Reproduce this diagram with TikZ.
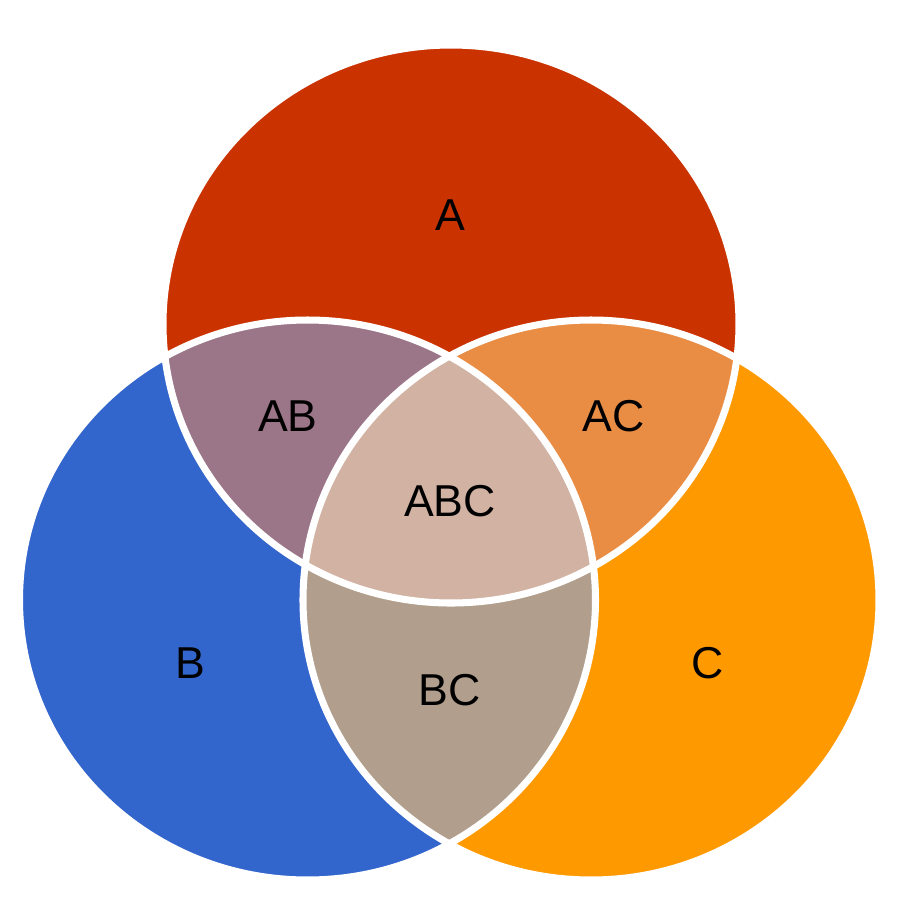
\documentclass[tikz,border=0pt]{standalone}
\usepackage{fontspec}
\setmainfont{Liberation Sans}
\definecolor{colA}{HTML}{CA3300}
\definecolor{colB}{HTML}{3366CC}
\definecolor{colC}{HTML}{FF9900}
\definecolor{colAB}{HTML}{9B7689}
\definecolor{colAC}{HTML}{E98D45}
\definecolor{colBC}{HTML}{B19E8C}
\definecolor{colABC}{HTML}{D2B3A3}
\tikzset{lbl/.style={font=\fontsize{12.7}{15}\selectfont, text=black, inner sep=0pt},
  sep/.style={draw=white, line width=2pt}}
\begin{document}
\begin{tikzpicture}[x=0.01cm,y=-0.01cm]
\useasboundingbox (0,0) rectangle (902,902);
\def\elA{(451,324) ellipse [x radius=288,y radius=279]}
\def\elB{(307.5,600) ellipse [x radius=288,y radius=280]}
\def\elC{(591,600) ellipse [x radius=288,y radius=280]}
\fill[colA] \elA;
\fill[colB] \elB;
\fill[colC] \elC;
\begin{scope}\clip \elA; \fill[colAB] \elB;\end{scope}
\begin{scope}\clip \elA; \fill[colAC] \elC;\end{scope}
\begin{scope}\clip \elB; \fill[colBC] \elC;\end{scope}
\begin{scope}\clip \elA; \clip \elB; \fill[colABC] \elC;\end{scope}
\draw[sep] \elA;
\draw[sep] \elB;
\draw[sep] \elC;
\node[lbl] (a) at (450,215) {A};
\node[lbl] (b) at (190,663) {B};
\node[lbl] (c) at (708,663) {C};
\node[lbl] (ab) at (288,416) {AB};
\node[lbl] (ac) at (614,416) {AC};
\node[lbl] (abc) at (450,501) {ABC};
\node[lbl] (bc) at (450,690) {BC};
\end{tikzpicture}
\end{document}
